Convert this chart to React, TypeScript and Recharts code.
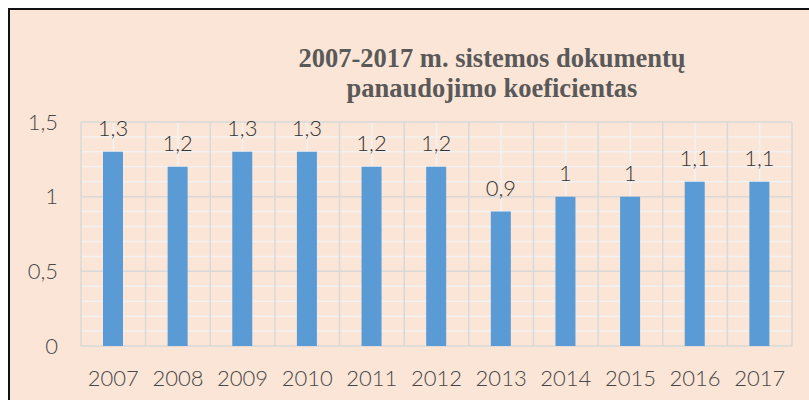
import { BarChart, Bar, XAxis, YAxis, CartesianGrid, LabelList } from "recharts";

const years = ["2007", "2008", "2009", "2010", "2011", "2012", "2013", "2014", "2015", "2016", "2017"];
const coefficients = [1.3, 1.2, 1.3, 1.3, 1.2, 1.2, 0.9, 1, 1, 1.1, 1.1];
const majorTicks = [0, 0.5, 1, 1.5];
const minorTicks = [0.1, 0.2, 0.3, 0.4, 0.6, 0.7, 0.8, 0.9, 1.1, 1.2, 1.3, 1.4];
const titleLines = ["2007-2017 m. sistemos dokumentų", "panaudojimo koeficientas"];

const data = years.map((year, i) => ({ year, value: coefficients[i] }));

const BG = "#fbe5d6";
const BAR = "#5b9bd5";
const LABEL_FONT = "Lato, 'DejaVu Sans', sans-serif";

const comma = (v: unknown) => String(v).replace(".", ",");

// recharts 3 may hand over either a d3 scale or its own wrapper with .map()
const applyScale = (s: any, v: any): number | undefined => {
  if (typeof s === "function") return s(v);
  if (s && typeof s.map === "function") return s.map(v);
  return undefined;
};
const bandOf = (s: any): number => {
  if (s && typeof s.bandwidth === "function") return s.bandwidth();
  if (s && typeof s.range === "function") {
    const r = s.range();
    return Math.abs(r[1] - r[0]) / years.length;
  }
  return 0;
};

const yAt = (vals: number[]) => (p: any) => {
  try {
    const s = p?.yAxis?.scale;
    return vals.map((v) => applyScale(s, v)).filter((n) => typeof n === "number") as number[];
  } catch (e) {
    return [];
  }
};
const categoryCenters = (p: any) => {
  try {
    const s = p?.xAxis?.scale;
    const bw = bandOf(s);
    return years.map((y) => (applyScale(s, y) as number) + bw / 2).filter((n) => !isNaN(n));
  } catch (e) {
    return [];
  }
};
const categoryEdges = (p: any) => {
  try {
    const s = p?.xAxis?.scale;
    const bw = bandOf(s);
    const starts = years.map((y) => applyScale(s, y) as number);
    return [...starts, starts[starts.length - 1] + bw].filter((n) => !isNaN(n));
  } catch (e) {
    return [];
  }
};

export default function App() {
  return (
    <div style={{ position: "fixed", left: 0, top: 0, width: 809, height: 400, background: "#fff", overflow: "hidden" }}>
      <div
        style={{
          position: "absolute",
          left: 8,
          top: 8,
          width: 801,
          height: 392,
          background: BG,
          borderTop: "2px solid #111",
          borderLeft: "2px solid #111",
          boxSizing: "border-box",
        }}
      />
      <div style={{ position: "absolute", left: 0, top: 0 }}>
        <BarChart width={809} height={400} data={data} margin={{ top: 122, right: 17, bottom: 0, left: 0 }}>
          {/* light minor grid */}
          <CartesianGrid
            stroke="#f2f2f2"
            strokeWidth={1.5}
            horizontalCoordinatesGenerator={yAt(minorTicks)}
            verticalCoordinatesGenerator={categoryCenters}
          />
          {/* major grid */}
          <CartesianGrid
            stroke="#d9d9d9"
            strokeWidth={1.5}
            horizontalCoordinatesGenerator={yAt(majorTicks)}
            verticalCoordinatesGenerator={categoryEdges}
          />
          <XAxis
            dataKey="year"
            axisLine={false}
            tickLine={false}
            tickSize={0}
            tickMargin={24}
            height={54}
            interval={0}
            tick={{ fill: "#474747", fontSize: 22, fontWeight: 300, fontFamily: LABEL_FONT }}
          />
          <YAxis
            domain={[0, 1.5]}
            ticks={majorTicks}
            axisLine={false}
            tickLine={false}
            tickSize={0}
            tickMargin={23}
            width={81}
            tickFormatter={comma}
            tick={{ fill: "#474747", fontSize: 22, fontWeight: 300, fontFamily: LABEL_FONT }}
          />
          <Bar dataKey="value" fill={BAR} barSize={20} isAnimationActive={false}>
            <LabelList
              dataKey="value"
              position="top"
              offset={16}
              formatter={comma}
              style={{ fill: "#333333", fontSize: 22, fontWeight: 300, fontFamily: LABEL_FONT }}
            />
          </Bar>
          <text
            x={492}
            y={67}
            textAnchor="middle"
            style={{ fill: "#595959", fontSize: 26.5, fontWeight: 700, fontFamily: "'Liberation Serif', 'Times New Roman', serif" }}
          >
            <tspan x={492} y={67}>{titleLines[0]}</tspan>
            <tspan x={492} y={97}>{titleLines[1]}</tspan>
          </text>
        </BarChart>
      </div>
    </div>
  );
}
